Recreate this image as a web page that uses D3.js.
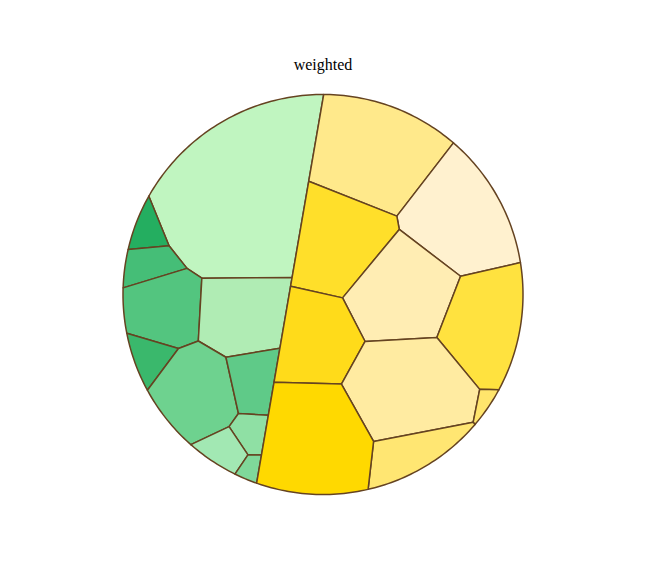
<!DOCTYPE html><html><head><meta charset="utf-8">
<script src="https://cdn.jsdelivr.net/npm/d3@7"></script>
<style>body{margin:0;background:#fff}svg{display:block}</style></head><body>
<svg id="chart" width="646" height="580"></svg>
<script>
// ---- data ----
const title = "weighted";
const groups = ["green", "yellow"];
const groupSeeds = [[-0.509, -0.0875], [0.3315, 0.0575]];
const cellGroup = [0,0,0,0,0,0,0,0,0,0,0, 1,1,1,1,1,1,1,1,1,1];
const cellNames = ["g1","g2","g3","g4","g5","g6","g7","g8","g9","g10","g11",
                   "y1","y2","y3","y4","y5","y6","y7","y8","y9","y10"];
const cellValues = [224.0, 11.28, 16.96, 49.05, 63.26, 14.04, 60.75, 25.83, 11.33, 13.87, 4.61,
                    113.44, 95.30, 78.27, 83.78, 75.79, 64.81, 103.95, 4.04, 33.51, 107.12];
const cellSeeds = [[-0.406,-0.5125],[-0.876,-0.3215],[-0.861,-0.150],[-0.7925,0.075],[-0.401,0.097],
                   [-0.8645,0.3195],[-0.6335,0.492],[-0.346,0.428],[-0.3625,0.6865],[-0.4985,0.7775],[-0.364,0.8685],
                   [0.2565,-0.713],[0.688,-0.3795],[0.081,-0.269],[0.401,-0.004],[0.81,0.1545],
                   [-0.028,0.2175],[0.4275,0.4705],[0.801,0.5445],[0.49,0.795],[-0.0425,0.734]];
const cellColors = ["#c0f5c0","#24ae60","#45be77","#53c57f","#b0ecb4","#3ab86c","#6ed28f","#5fca88","#8fe0a4","#a2e8b3","#7fd89a",
                    "#ffe98b","#fff1cf","#ffdf2a","#ffedb3","#ffe23f","#ffdb1a","#ffeba1","#ffe56c","#ffe672","#ffd900"];

// ---- layout ----
const W = 646, H = 580, cx = 323, cy = 294.5, R = 200;
const sx = d3.scaleLinear().domain([-1, 1]).range([cx - R, cx + R]);
const sy = d3.scaleLinear().domain([-1, 1]).range([cy - R, cy + R]);

function circlePoly(n){const a=[];for(let i=0;i<n;i++){const t=2*Math.PI*i/n;a.push([cx+R*Math.cos(t),cy+R*Math.sin(t)]);}return a;}
function clipHalf(poly,a,b,c){const out=[];const n=poly.length;for(let i=0;i<n;i++){const p=poly[i],q=poly[(i+1)%n];const fp=a*p[0]+b*p[1]-c,fq=a*q[0]+b*q[1]-c;if(fp<=0)out.push(p);if((fp<0&&fq>0)||(fp>0&&fq<0)){const t=fp/(fp-fq);out.push([p[0]+t*(q[0]-p[0]),p[1]+t*(q[1]-p[1])]);}}return out;}
function powerDiagram(sites,clip){return sites.map((s,i)=>{let poly=clip;for(let j=0;j<sites.length;j++){if(j===i)continue;const o=sites[j];const a=2*(o.x-s.x),b=2*(o.y-s.y),c=o.x*o.x+o.y*o.y-s.x*s.x-s.y*s.y-o.w+s.w;poly=clipHalf(poly,a,b,c);if(poly.length<3)return [];}return poly;});}
function fixOverweighted(s){let f;do{f=false;for(let i=0;i<s.length&&!f;i++)for(let j=i+1;j<s.length;j++){const h=s[i].w>s[j].w?s[i]:s[j],l=h===s[i]?s[j]:s[i];const d=(s[i].x-s[j].x)**2+(s[i].y-s[j].y)**2;if(d<h.w-l.w){h.w=Math.max(d+l.w/2,1e-6);f=true;break;}}}while(f);}
function voronoiTreemap(clip, values, seeds, iterations){
  const total=Math.abs(d3.polygonArea(clip)), sum=d3.sum(values);
  const sites=seeds.map(p=>({x:sx(p[0]),y:sy(p[1]),w:total/seeds.length/2}));
  let cells=powerDiagram(sites,clip);
  for(let k=0;k<iterations;k++){
    cells.forEach((c,i)=>{const a=c.length>2?Math.abs(d3.polygonArea(c)):1e-3;let r=values[i]/sum*total/a;r=Math.min(2,Math.max(0.5,r));sites[i].w*=r;});
    fixOverweighted(sites);
    cells=powerDiagram(sites,clip);
  }
  return cells;
}

const groupValues = groups.map((g,gi)=>d3.sum(cellValues.filter((v,i)=>cellGroup[i]===gi)));
const groupCells = voronoiTreemap(circlePoly(360), groupValues, groupSeeds, 200);
const leaves = [];
groups.forEach((g,gi)=>{
  const idx = cellGroup.map((c,i)=>c===gi?i:-1).filter(i=>i>=0);
  const cells = voronoiTreemap(groupCells[gi], idx.map(i=>cellValues[i]), idx.map(i=>cellSeeds[i]), 300);
  cells.forEach((poly,k)=>leaves.push({name:cellNames[idx[k]], poly, color:cellColors[idx[k]]}));
});

// ---- draw ----
const svg = d3.select("#chart");
svg.append("text").attr("x", cx).attr("y", 69.5).attr("text-anchor","middle")
  .attr("font-family","'Liberation Serif', 'Times New Roman', serif").attr("font-size",16).attr("fill","#000").text(title);
const line = d3.line().curve(d3.curveLinearClosed);
svg.append("g").selectAll("path").data(leaves).join("path")
  .attr("d", d => d.poly.length ? line(d.poly) : null)
  .attr("fill", d => d.color)
  .attr("stroke", "#654321").attr("stroke-width", 1.5).attr("stroke-linejoin","round");
</script></body></html>
